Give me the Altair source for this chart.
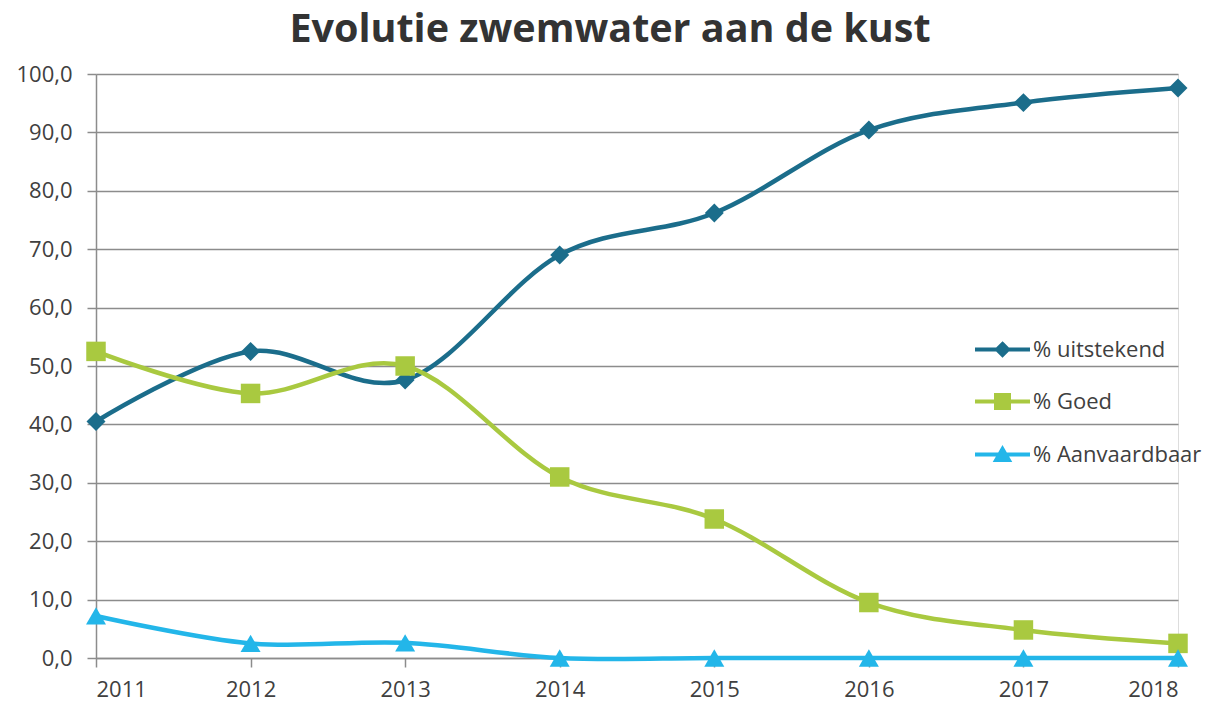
import altair as alt
import pandas as pd

years = [2011, 2012, 2013, 2014, 2015, 2016, 2017, 2018]
series_names = ["% uitstekend", "% Goed", "% Aanvaardbaar"]
uitstekend = [40.5, 52.5, 47.6, 69.0, 76.2, 90.4, 95.1, 97.6]
goed = [52.5, 45.3, 50.0, 31.0, 23.8, 9.5, 4.8, 2.5]
aanvaardbaar = [7.2, 2.5, 2.6, 0.0, 0.0, 0.0, 0.0, 0.0]
colors = ["#1b6d8b", "#a9c940", "#23b6e9"]
y_ticks = [0, 10, 20, 30, 40, 50, 60, 70, 80, 90, 100]

rows = []
for name, vals in zip(series_names, [uitstekend, goed, aanvaardbaar]):
    for yr, v in zip(years, vals):
        rows.append({"year": yr, "series": name, "value": v})
df = pd.DataFrame(rows)

GRID = "#8c8c8c"
LABEL = "#404040"
FONT = "Open Sans"

# legend symbols: a line with a marker in the middle (custom paths)
legend_paths = [
    "M-1,0L1,0M0,-0.2L0.2,0L0,0.2L-0.2,0ZM0,-0.1L0.1,0L0,0.1L-0.1,0Z",
    "M-1,0L1,0M-0.236,-0.236L0.236,-0.236L0.236,0.236L-0.236,0.236Z"
    "M-0.12,-0.12L0.12,-0.12L0.12,0.12L-0.12,0.12Z",
    "M-1,0L1,0M0,-0.2L0.23,0.2L-0.23,0.2ZM0,-0.06L0.09,0.1L-0.09,0.1Z",
]

x_enc = alt.X(
    "year:Q",
    scale=alt.Scale(domain=[2011, 2018], nice=False, zero=False),
    axis=alt.Axis(
        values=years, format="d", grid=False, title=None,
        tickSize=9, tickColor=GRID, tickWidth=1.5,
        domainColor=GRID, domainWidth=1.5,
        labelFont=FONT, labelFontSize=22, labelColor=LABEL, labelPadding=12,
    ),
)
y_enc = alt.Y(
    "value:Q",
    scale=alt.Scale(domain=[0, 100], nice=False),
    axis=alt.Axis(
        values=y_ticks, title=None,
        labelExpr="replace(format(datum.value, '.1f'), '.', ',')",
        grid=True, gridColor=GRID, gridWidth=1.5,
        tickSize=9, tickColor=GRID, tickWidth=1.5,
        domainColor=GRID, domainWidth=1.5,
        labelFont=FONT, labelFontSize=22, labelColor=LABEL, labelPadding=15,
    ),
)

base = alt.Chart(df)

marker_shapes = ["diamond", "square", "triangle-up"]
marker_sizes = [360, 380, 400]
layers = []
for name, col, shp, sz in zip(series_names, colors, marker_shapes, marker_sizes):
    sub = base.transform_filter(alt.datum.series == name)
    layers.append(
        sub.mark_line(interpolate="cardinal", strokeWidth=4.5).encode(
            x=x_enc, y=y_enc, color=alt.value(col)
        )
    )
    layers.append(
        sub.mark_point(shape=shp, size=sz, filled=True, opacity=1, strokeWidth=0).encode(
            x=x_enc, y=y_enc, color=alt.value(col)
        )
    )

leg = dict(
    orient="none", legendX=877, legendY=246, direction="vertical", title=None,
    symbolSize=3025, symbolStrokeWidth=4, symbolOpacity=1,
    labelFont=FONT, labelFontSize=22, labelColor=LABEL, labelOffset=1,
    labelLimit=400, rowPadding=9,
)
legend_layer = base.mark_point(
    filled=False, opacity=0, strokeWidth=4
).encode(
    x=x_enc, y=y_enc,
    color=alt.Color("series:N", scale=alt.Scale(domain=series_names, range=colors),
                    legend=alt.Legend(**leg)),
    shape=alt.Shape("series:N", scale=alt.Scale(domain=series_names, range=legend_paths),
                    legend=alt.Legend(**leg)),
)
layers.append(legend_layer)

chart = alt.layer(*layers).properties(
    width=1082,
    height=584,
    padding={"left": 88, "top": 66, "right": 27, "bottom": 44},
    autosize=alt.AutoSizeParams(type="none"),
    title=alt.TitleParams(
        "Evolutie zwemwater aan de kust",
        font=FONT, fontSize=39.5, fontWeight="bold", color="#333333",
        anchor="middle", frame="group", dx=-27, offset=13,
    ),
).configure_view(stroke=None).configure(background="white")

chart.save("out.html", embed_options={"renderer": "svg", "actions": False})
